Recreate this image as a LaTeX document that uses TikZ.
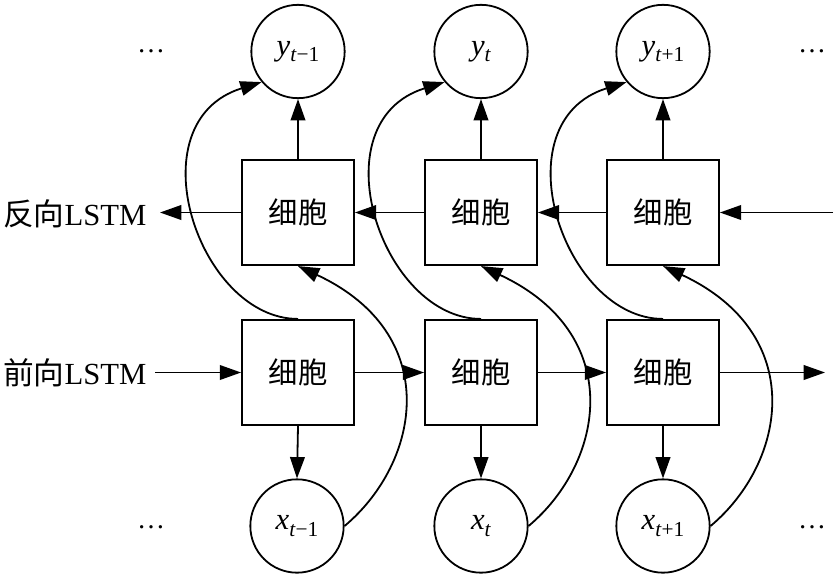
\documentclass[tikz,border=0pt]{standalone}
\usepackage{fontspec}
\setmainfont{Liberation Serif}
\newfontfamily\cjk{Noto Sans CJK SC}
\usetikzlibrary{arrows.meta}
\newcommand{\lbl}[3]{\textit{#1}\raisebox{-0.2em}{\fontsize{16}{16}\selectfont\textit{#2}#3}}
\begin{document}
\begin{tikzpicture}[x=0.75pt,y=-0.75pt,
  cell/.style={draw, line width=1.35pt, minimum width=84pt, minimum height=79pt, inner sep=0pt, font=\cjk\fontsize{22}{24}\selectfont},
  io/.style={draw, circle, line width=1.35pt, minimum size=70pt, inner sep=0pt, font=\fontsize{23}{24}\selectfont},
  side/.style={inner sep=0pt, font=\fontsize{23}{24}\selectfont},
  dots/.style={inner sep=0pt, anchor=base, font=\fontsize{21}{24}\selectfont},
  arr/.style={-{Triangle[length=16pt,width=11pt]}, line width=1.35pt}]
\useasboundingbox (0,0) rectangle (838,578);

% cells
\node[cell] (b1) at (298,212.5) {细胞};
\node[cell] (b2) at (481,212.5) {细胞};
\node[cell] (b3) at (663,212.5) {细胞};
\node[cell] (f1) at (298,372.5) {细胞};
\node[cell] (f2) at (481,372.5) {细胞};
\node[cell] (f3) at (663,372.5) {细胞};

% outputs / inputs
\node[io] (y1) at (298,51.5) {\lbl{y}{t}{−1}};
\node[io] (y2) at (481,51.5) {\lbl{y}{t}{}};
\node[io] (y3) at (663,51.5) {\lbl{y}{t}{+1}};
\node[io] (x1) at (297,526) {\lbl{x}{t}{−1}};
\node[io] (x2) at (481,526) {\lbl{x}{t}{}};
\node[io] (x3) at (663,526) {\lbl{x}{t}{+1}};

% side labels
\node[side, anchor=west] (lb) at (3,214) {{\cjk 反向}LSTM};
\node[side, anchor=west] (lf) at (3,373) {{\cjk 前向}LSTM};

% dots
\node[dots] (d1) at (151,52) {…};
\node[dots] (d2) at (151,528) {…};
\node[dots] (d3) at (812,52) {…};
\node[dots] (d4) at (812,528) {…};

% free ends
\coordinate (bl) at (160,212.5);
\coordinate (br) at (833,212.5);
\coordinate (fl) at (155,372.5);
\coordinate (fr) at (825,372.5);

% horizontal chains
\draw[arr] (br) -- (b3.east);
\draw[arr] (b3.west) -- (b2.east);
\draw[arr] (b2.west) -- (b1.east);
\draw[arr] (b1.west) -- (bl);
\draw[arr] (fl) -- (f1.west);
\draw[arr] (f1.east) -- (f2.west);
\draw[arr] (f2.east) -- (f3.west);
\draw[arr] (f3.east) -- (fr);

% vertical arrows and skip curves
\foreach \i in {1,2,3}{
  \draw[arr] (b\i.north) -- (y\i.south);
  \draw[arr] (f\i.south) -- (x\i.north);
  \draw[arr] (f\i.north) .. controls +(-100,0) and +(-128,40) .. (y\i.220);
  \draw[arr] (x\i.east) .. controls +(76.6,-64.3) and +(145,67.7) .. (b\i.south);
}
\end{tikzpicture}
\end{document}
